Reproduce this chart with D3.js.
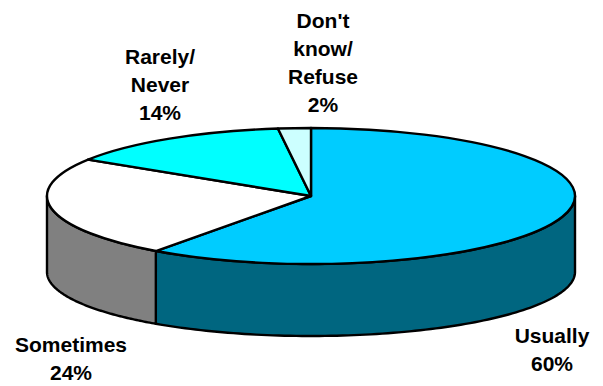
<!DOCTYPE html>
<html><head><meta charset="utf-8">
<script src="https://cdn.jsdelivr.net/npm/d3@7/dist/d3.min.js"></script>
<style>html,body{margin:0;padding:0;background:#fff}svg{display:block}
text{font-family:"Liberation Sans",Arial,sans-serif;font-weight:700;font-size:21px;fill:#000;text-anchor:middle}</style>
</head><body><div id="c"></div>
<script>
const categories = ["Usually","Sometimes","Rarely/Never","Don't know/Refuse"];
const values = [60,24,14,2];
const topColors = ["#00CCFF","#FFFFFF","#00FFFF","#CCFFFF"];
const sideColors = ["#006680","#808080","#00FFFF","#CCFFFF"];
const labelLines = [["Usually","60%"],["Sometimes","24%"],["Rarely/","Never","14%"],["Don't","know/","Refuse","2%"]];
const labelPos = [[552,343],[71,352],[160,64],[323,28]];

const W=603,H=386,cx=311,cy=196,rx=264,ry=68,lw=2.4;
const baseCy=272,baseRy=64;
const svg=d3.select("#c").append("svg").attr("width",W).attr("height",H);
const arcs=d3.pie().value(d=>d).sort(null)(values);
const top_=a=>[cx+rx*Math.sin(a),cy-ry*Math.cos(a)];
const base=a=>[cx+rx*Math.sin(a),baseCy-baseRy*Math.cos(a)];
const line=d3.line();
const PI=Math.PI;

// front wall
arcs.forEach((d,i)=>{
  const a0=Math.max(d.startAngle,PI/2), a1=Math.min(d.endAngle,3*PI/2);
  if(a1<=a0) return;
  const as=d3.range(0,101).map(k=>a0+(a1-a0)*k/100);
  const pts=as.map(top_).concat(as.slice().reverse().map(base));
  svg.append("path").attr("d",line(pts)+"Z").attr("fill",sideColors[i])
    .attr("stroke","#000").attr("stroke-width",lw).attr("stroke-linejoin","round");
});

// top face
const arc=d3.arc().innerRadius(0).outerRadius(rx);
svg.append("g").attr("transform",`translate(${cx},${cy}) scale(1,${ry/rx})`)
  .selectAll("path").data(arcs).join("path")
  .attr("d",arc).attr("fill",(d,i)=>topColors[i])
  .attr("stroke","#000").attr("stroke-width",lw).attr("stroke-linejoin","round")
  .attr("vector-effect","non-scaling-stroke");

// labels
labelLines.forEach((ls,i)=>{
  const t=svg.append("text").attr("x",labelPos[i][0]).attr("y",labelPos[i][1]);
  ls.forEach((s,j)=>t.append("tspan").attr("x",labelPos[i][0]).attr("dy",j?28:0).text(s));
});
</script></body></html>
